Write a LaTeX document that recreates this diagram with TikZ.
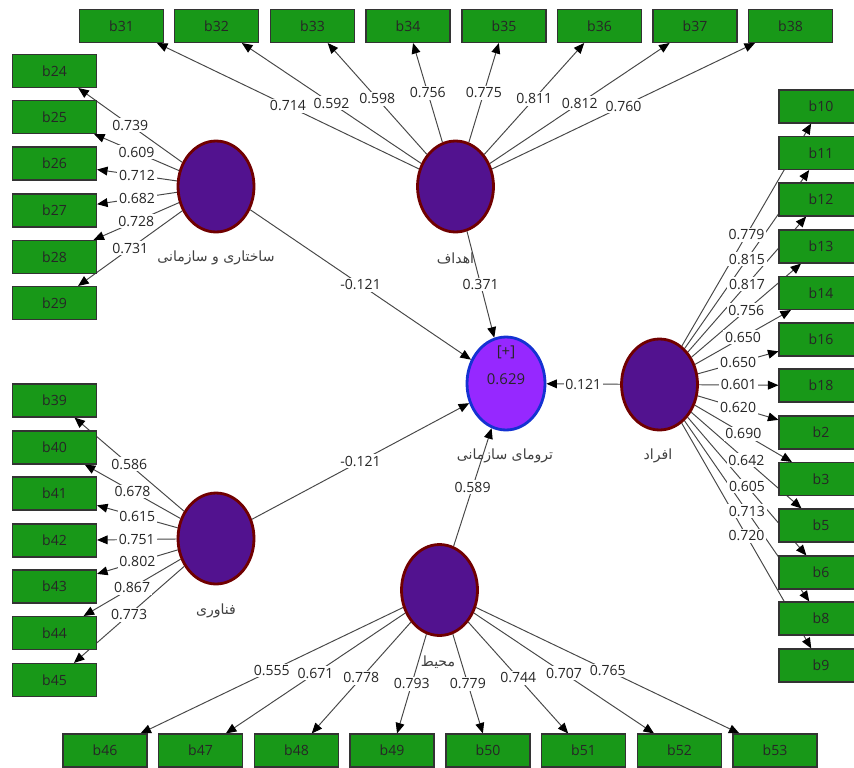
\documentclass[tikz,border=0pt]{standalone}
\usepackage{fontspec}
\setmainfont{Open Sans}
\newfontfamily\fafont[Script=Arabic]{DejaVu Sans}
\TeXXeTstate=1
\usetikzlibrary{shapes.geometric,arrows.meta,backgrounds}
\definecolor{indgreen}{RGB}{24,152,24}
\definecolor{latfill}{RGB}{82,18,143}
\definecolor{latline}{RGB}{112,0,0}
\definecolor{endofill}{RGB}{150,40,255}
\definecolor{endoline}{RGB}{20,50,210}
\begin{document}
\begin{tikzpicture}[
    x=0.02cm, y=-0.02cm,
    ind/.style={
        draw=black!80,
        fill=indgreen,
        line width=0.6pt,
        minimum width=1.68cm,
        minimum height=0.66cm,
        inner sep=0pt,
        font=\fontsize{8}{9}\selectfont,
        text=black!85
    },
    lat/.style={ellipse, draw=latline, fill=latfill, line width=1.6pt,
        minimum width=1.52cm, minimum height=1.82cm},
    endo/.style={lat, draw=endoline, fill=endofill,
        minimum width=1.56cm, minimum height=1.86cm},
    cname/.style={font=\fafont\fontsize{8}{9}\selectfont, text=black!75},
    lbl/.style={fill=white, inner sep=1pt, font=\fontsize{8}{9}\selectfont, text=black!85},
    arr/.style={-{Triangle[length=6pt,width=5pt,color=black]}, line width=0.55pt, draw=black!72}
]
    \path[use as bounding box, clip] (0,0) rectangle (854,767);

    % constructs
    \node[lat] (struc) at (216,186.5) {};
    \node[lat] (goal) at (455.5,186.5) {};
    \node[lat] (tech) at (216,538.5) {};
    \node[lat] (envr) at (439.5,590) {};
    \node[lat] (ppl) at (659.5,384.5) {};
    \node[endo] (trauma) at (506,383.5) {};

    \node[cname] (strucname) at (216,258) {\beginR ساختاری و سازمانی\endR};
    \node[cname] (goalname) at (455.5,258) {\beginR اهداف\endR};
    \node[cname] (techname) at (216,611) {\beginR فناوری\endR};
    \node[cname] (envrname) at (438,662) {\beginR محیط\endR};
    \node[cname] (pplname) at (658,456) {\beginR افراد\endR};
    \node[cname] (traumaname) at (505,456) {\beginR ترومای سازمانی\endR};
    \node[lbl, fill=none, font=\fontsize{8.5}{9}\selectfont] (rplus) at (506,352) {[+]};
    \node[lbl, fill=none, font=\fontsize{8.5}{9}\selectfont] (rsq) at (506,379) {0.629};

    % indicators
    \foreach \n/\x in {b31/121.5, b32/216.5, b33/312.5, b34/408,
                       b35/504, b36/599.5, b37/695, b38/790.5}
        \node[ind] (\n) at (\x,26) {\n};
    \foreach \n/\x in {b46/105, b47/200.5, b48/296.5, b49/392,
                       b50/488, b51/583.5, b52/679.5, b53/775}
        \node[ind] (\n) at (\x,750.5) {\n};
    \foreach \n/\y in {b24/71, b25/117, b26/163.5, b27/210.5, b28/257, b29/303,
                       b39/400.5, b40/447.5, b41/493.5, b42/540.5, b43/586.5, b44/633, b45/680}
        \node[ind] (\n) at (54.5,\y) {\n};
    \foreach \n/\y in {b10/106.5, b11/153, b12/199.5, b13/246.5, b14/293, b16/339.5, b18/385.5,
                       b2/432.5, b3/479, b5/525.5, b6/572.5, b8/618.5, b9/665.5}
        \node[ind] (\n) at (821,\y) {\n};

    % loadings
    \foreach \src/\n/\v in {
        struc/b24/0.739, struc/b25/0.609, struc/b26/0.712, struc/b27/0.682, struc/b28/0.728, struc/b29/0.731,
        goal/b31/0.714, goal/b32/0.592, goal/b33/0.598, goal/b34/0.756,
        goal/b35/0.775, goal/b36/0.811, goal/b37/0.812, goal/b38/0.760,
        tech/b39/0.586, tech/b40/0.678, tech/b41/0.615, tech/b42/0.751, tech/b43/0.802, tech/b44/0.867, tech/b45/0.773,
        envr/b46/0.555, envr/b47/0.671, envr/b48/0.778, envr/b49/0.793,
        envr/b50/0.779, envr/b51/0.744, envr/b52/0.707, envr/b53/0.765,
        ppl/b10/0.779, ppl/b11/0.815, ppl/b12/0.817, ppl/b13/0.756, ppl/b14/0.650, ppl/b16/0.650, ppl/b18/0.601,
        ppl/b2/0.620, ppl/b3/0.690, ppl/b5/0.642, ppl/b6/0.605, ppl/b8/0.713, ppl/b9/0.720}{
        \begin{pgfonlayer}{background}
            \draw[arr] (\src) -- (\n);
        \end{pgfonlayer}
        \path (\src) -- node[lbl] {\v} (\n);
    }

    % paths
    \foreach \src/\v in {struc/-0.121, goal/0.371, tech/-0.121, envr/0.589, ppl/0.121}{
        \begin{pgfonlayer}{background}
            \draw[arr] (\src) -- (trauma);
        \end{pgfonlayer}
        \path (\src) -- node[lbl] {\v} (trauma);
    }
\end{tikzpicture}
\end{document}
